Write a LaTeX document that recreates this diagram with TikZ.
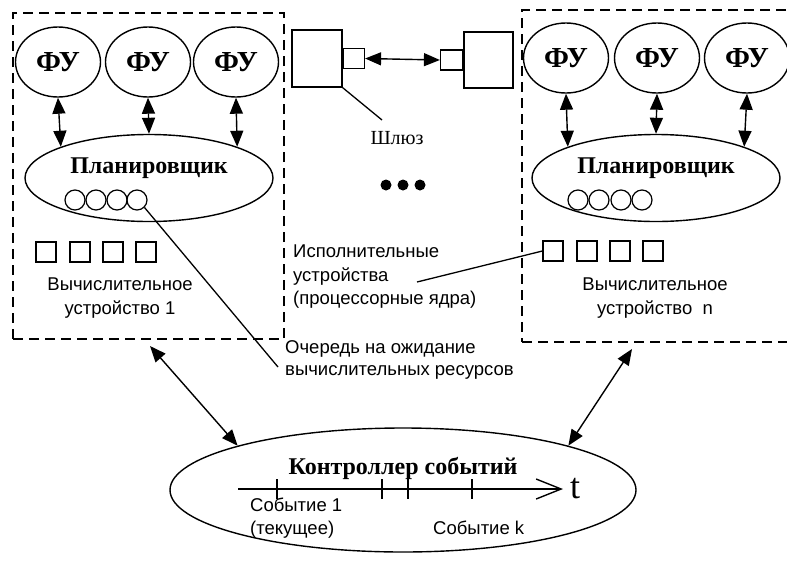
\documentclass[tikz,border=0pt]{standalone}
\usepackage{fontspec}
\setmainfont{Liberation Serif}
\setsansfont{Liberation Sans}
\usepackage{tikz}
\usetikzlibrary{arrows.meta,shapes.geometric}
\tikzset{
  fu/.style={ellipse, draw, line width=1.4pt, minimum width=85pt, minimum height=70pt,
             inner sep=0pt, font=\fontsize{29}{30}\selectfont\bfseries},
  plan/.style={ellipse, draw, line width=1.4pt, minimum width=248pt, minimum height=87pt, inner sep=0pt},
  ptitle/.style={font=\fontsize{24}{26}\selectfont\bfseries},
  waitq/.style={circle, draw, line width=1.2pt, minimum size=20pt, inner sep=0pt},
  core/.style={rectangle, draw, line width=1.2pt, minimum size=20pt, inner sep=0pt},
  gw/.style={rectangle, draw, line width=1.4pt, inner sep=0pt},
  dev/.style={draw, line width=1.5pt, dash pattern=on 10pt off 6pt, inner sep=0pt},
  lbl/.style={font=\sffamily\fontsize{18.5}{24}\selectfont, align=left, inner sep=0pt},
  dbl/.style={{Triangle[length=16pt,width=13pt]}-{Triangle[length=16pt,width=13pt]}, line width=1.4pt},
  note/.style={line width=1.3pt},
  dotn/.style={circle, fill, inner sep=0pt, minimum size=11pt},
}
\begin{document}
\begin{tikzpicture}[x=1pt, y=-1pt]
  \useasboundingbox (0,0) rectangle (787,563);

  % computing devices
  \node[dev, minimum width=271pt, minimum height=326pt] (devL) at (148.5,176) {};
  \node[dev, minimum width=270pt, minimum height=332pt] (devR) at (657,176) {};

  % left device
  \node[fu] (fuL1) at (58,62) {ФУ};
  \node[fu] (fuL2) at (148,62) {ФУ};
  \node[fu] (fuL3) at (236,62) {ФУ};
  \node[plan] (planL) at (149,178) {};
  \node[ptitle] (ptL) at (149,168) {Планировщик};
  \foreach \i/\x in {1/75,2/96,3/117,4/137}
    \node[waitq] (wL\i) at (\x,200) {};
  \foreach \i/\x in {1/46,2/80,3/113,4/146}
    \node[core] (cL\i) at (\x,252) {};
  \node[lbl, align=center] (nameL) at (120,298) {Вычислительное\\устройство 1};
  \draw[dbl] (fuL1.south) -- (planL.north west);
  \draw[dbl] (fuL2.south) -- (planL.north);
  \draw[dbl] (fuL3.south) -- (planL.north east);

  % right device
  \node[fu] (fuR1) at (566,58) {ФУ};
  \node[fu] (fuR2) at (657,58) {ФУ};
  \node[fu] (fuR3) at (747,58) {ФУ};
  \node[plan] (planR) at (656,178) {};
  \node[ptitle] (ptR) at (656,168) {Планировщик};
  \foreach \i/\x in {1/578,2/599,3/621,4/642}
    \node[waitq] (wR\i) at (\x,200) {};
  \foreach \i/\x in {1/553,2/587,3/620,4/653}
    \node[core] (cR\i) at (\x,251) {};
  \node[lbl, align=center] (nameR) at (655,298) {Вычислительное\\устройство~~n};
  \draw[dbl] (fuR1.south) -- (planR.north west);
  \draw[dbl] (fuR2.south) -- (planR.north);
  \draw[dbl] (fuR3.south) -- (planR.north east);

  % gateway
  \node[gw, minimum width=50pt, minimum height=57pt] (gwL) at (317,58.5) {};
  \node[gw, minimum width=21pt, minimum height=20pt, anchor=west] (gwLp) at (gwL.east) {};
  \node[gw, minimum width=49pt, minimum height=56pt] (gwR) at (488.5,60) {};
  \node[gw, minimum width=22pt, minimum height=20pt, anchor=east] (gwRp) at (gwR.west) {};
  \draw[dbl] (gwLp.east) -- (gwRp.west);
  \node[font=\fontsize{20}{22}\selectfont] (gwname) at (397,138) {Шлюз};
  \coordinate (gwtip) at (382,120);
  \draw[note] (gwL.south east) -- (gwtip);
  \foreach \i/\x in {1/386,2/403,3/420}
    \node[dotn] (dot\i) at (\x,185) {};

  % notes
  \node[lbl, anchor=west, font=\sffamily\fontsize{18.5}{23.5}\selectfont] (coresTxt) at (293,277) {Исполнительные\\устройства\\(процессорные ядра)};
  \coordinate (coresTip) at (417,282);
  \draw[note] (cR1.west) -- (coresTip);
  \node[lbl, anchor=west, font=\sffamily\fontsize{18.5}{22}\selectfont] (queueTxt) at (285,360) {Очередь на ожидание\\вычислительных ресурсов};
  \coordinate (queueTip) at (278,367);
  \draw[note] (wL4.south east) -- (queueTip);

  % event controller
  \node[ellipse, draw, line width=1.4pt, minimum width=466pt, minimum height=124pt, inner sep=0pt] (ctrl) at (403,490) {};
  \node[ptitle] (ctrlTxt) at (403,468) {Контроллер событий};
  \coordinate (ax0) at (238,489);
  \coordinate (ax1) at (563,489);
  \draw[line width=1.4pt, -{Straight Barb[length=25pt,width=20pt,line width=1.4pt]}] (ax0) -- (ax1);
  \node[font=\fontsize{36}{36}\selectfont, inner sep=0pt] (tlbl) at (575,489) {t};
  \foreach \x in {277,382,408,472}
    \draw[line width=1.4pt] (\x,479) -- (\x,499);
  \node[lbl, anchor=west, font=\sffamily\fontsize{18.5}{23}\selectfont] (ev1) at (250,518.5) {Событие 1\\(текущее)};
  \node[lbl, anchor=west] (evk) at (433,528) {Событие k};

  % devices <-> controller
  \coordinate (qL) at (150,346);
  \coordinate (qR) at (632,349);
  \draw[dbl] (qL) -- (ctrl.165);
  \draw[dbl] (qR) -- (ctrl.15);
\end{tikzpicture}
\end{document}
